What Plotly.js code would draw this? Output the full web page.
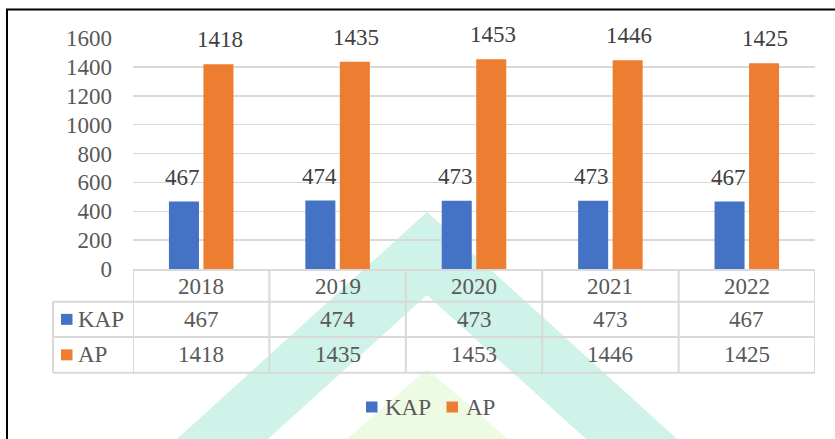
<!DOCTYPE html>
<html>
<head>
<meta charset="utf-8">
<script src="https://cdn.plot.ly/plotly-3.0.1.min.js"></script>
<style>
html,body{margin:0;padding:0;background:#fff;}
#chart{width:835px;height:439px;}
</style>
</head>
<body>
<div id="chart"></div>
<script>
// ---- data ----
const categories = ['2018', '2019', '2020', '2021', '2022'];
const seriesNames = ['KAP', 'AP'];
const kapValues = [467, 474, 473, 473, 467];
const apValues = [1418, 1435, 1453, 1446, 1425];
const yTickValues = [0, 200, 400, 600, 800, 1000, 1200, 1400, 1600];

// ---- styles ----
const FONT = 'Liberation Serif, Times New Roman, serif';
const TXT = '#595959';
const colors = ['#4472C4', '#ED7D31'];
const series = [kapValues, apValues];

// plot area in pixels (for decoration placement)
const L = 133, R = 815, T = 38, B = 269;
const xp = px => (px - L) / (R - L);
const yp = py => (B - py) / (B - T);

const traces = series.map((vals, i) => ({
  type: 'bar',
  name: seriesNames[i],
  x: categories,
  y: vals,
  marker: {color: colors[i]},
  hoverinfo: 'none'
}));

const shapes = [];
const annotations = [];

// watermark (decorative)
function poly(pts, color) {
  let d = pts.map((p, k) => (k ? 'L' : 'M') + xp(p[0]).toFixed(4) + ',' + yp(p[1]).toFixed(4)).join(' ') + ' Z';
  shapes.push({type: 'path', xref: 'paper', yref: 'paper', path: d, fillcolor: color,
    line: {width: 0}, layer: 'below'});
}
poly([[177, 439], [427, 212], [677, 439], [586, 439], [427, 295], [268, 439]], '#cff2e9');
poly([[347, 439], [427, 369], [508, 439]], '#edfbe2');

// chart frame (top and left border)
shapes.push({type: 'line', xref: 'paper', yref: 'paper', x0: xp(6), x1: xp(840), y0: yp(9.5), y1: yp(9.5),
  line: {color: '#000', width: 2}});
shapes.push({type: 'line', xref: 'paper', yref: 'paper', x0: xp(7), x1: xp(7), y0: yp(9), y1: yp(445),
  line: {color: '#000', width: 2}});

// data table grid
const GRID = '#d9d9d9';
const rowY = [269, 301.7, 337, 372.7];
for (let r = 1; r < rowY.length; r++) {
  shapes.push({type: 'line', xref: 'paper', yref: 'paper', x0: xp(53), x1: 1, y0: yp(rowY[r]), y1: yp(rowY[r]),
    line: {color: GRID, width: 2}});
}
for (let c = 0; c <= categories.length; c++) {
  shapes.push({type: 'line', xref: 'x', yref: 'paper', x0: c - 0.5, x1: c - 0.5, y0: yp(rowY[0]), y1: yp(rowY[3]),
    line: {color: GRID, width: 2}});
}
shapes.push({type: 'line', xref: 'paper', yref: 'paper', x0: xp(53), x1: xp(53), y0: yp(rowY[1]), y1: yp(rowY[3]),
  line: {color: GRID, width: 2}});

// table header row: categories
categories.forEach((c, j) => {
  annotations.push({xref: 'x', yref: 'paper', x: j, y: yp((rowY[0] + rowY[1]) / 2 + 1), xanchor: 'center', yanchor: 'middle',
    text: c, showarrow: false, font: {family: FONT, size: 23, color: TXT}});
});

// table rows: legend keys, names, values
series.forEach((vals, i) => {
  const cy = (rowY[i + 1] + rowY[i + 2]) / 2;
  shapes.push({type: 'rect', xref: 'paper', yref: 'paper', x0: xp(61), x1: xp(72.5), y0: yp(cy - 5.5), y1: yp(cy + 5.5),
    fillcolor: colors[i], line: {width: 0}});
  annotations.push({xref: 'paper', yref: 'paper', x: xp(76), y: yp(cy), xanchor: 'left', yanchor: 'middle',
    text: seriesNames[i], showarrow: false, font: {family: FONT, size: 23, color: TXT}});
  vals.forEach((v, j) => {
    annotations.push({xref: 'x', yref: 'paper', x: j, y: yp(cy), xanchor: 'center', yanchor: 'middle',
      text: String(v), showarrow: false, font: {family: FONT, size: 23, color: TXT}});
    // data labels above bars
    annotations.push({xref: 'x', yref: 'y', x: j, y: v, xshift: (i === 0 ? -18.5 : 18.5),
      xanchor: 'center', yanchor: 'bottom', yshift: 10,
      text: String(v), showarrow: false, font: {family: FONT, size: 23, color: '#404040'}});
  });
});

// bottom legend (Excel style: small square + name)
const legendX = [366, 446.5];
const legendY = 407;
seriesNames.forEach((n, i) => {
  shapes.push({type: 'rect', xref: 'paper', yref: 'paper', x0: xp(legendX[i]), x1: xp(legendX[i] + 11.5),
    y0: yp(legendY - 5.5), y1: yp(legendY + 5.5), fillcolor: colors[i], line: {width: 0}});
  annotations.push({xref: 'paper', yref: 'paper', x: xp(legendX[i] + 17), y: yp(legendY), xanchor: 'left', yanchor: 'middle',
    text: n, showarrow: false, font: {family: FONT, size: 23, color: TXT}});
});

const layout = {
  width: 835, height: 439,
  margin: {l: L, r: 835 - R, t: T, b: 439 - B},
  paper_bgcolor: '#ffffff',
  plot_bgcolor: 'rgba(0,0,0,0)',
  font: {family: FONT, size: 23, color: TXT},
  barmode: 'group',
  bargap: 0.494,
  bargroupgap: 0.13,
  showlegend: false,
  xaxis: {
    type: 'category',
    range: [-0.5, categories.length - 0.5],
    autorange: false,
    showgrid: false, zeroline: false,
    showline: true, linecolor: GRID, linewidth: 2,
    ticks: '', showticklabels: false,
    fixedrange: true
  },
  yaxis: {
    range: [0, 1600],
    autorange: false,
    tickvals: yTickValues,
    showgrid: true, gridcolor: GRID, gridwidth: 1.5,
    zeroline: false, showline: false,
    ticks: '', ticklabelstandoff: 20,
    tickfont: {family: FONT, size: 23, color: TXT},
    fixedrange: true
  },
  shapes: shapes,
  annotations: annotations
};

Plotly.newPlot('chart', traces, layout, {displayModeBar: false, staticPlot: true});
</script>
</body>
</html>
